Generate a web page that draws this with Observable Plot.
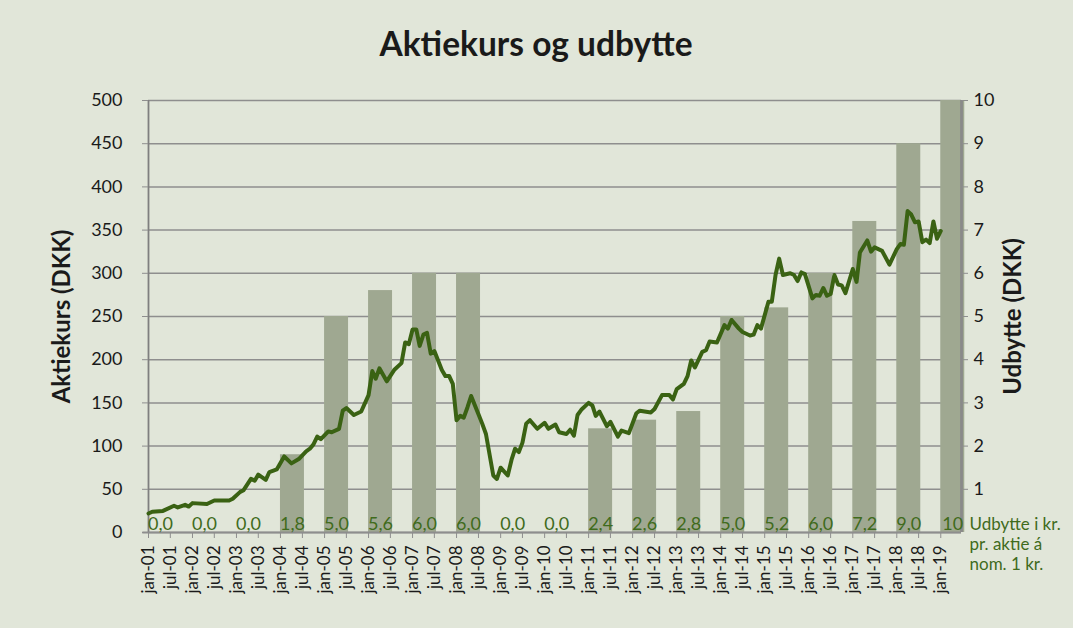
<!DOCTYPE html>
<html>
<head>
<meta charset="utf-8">
<script src="https://cdn.jsdelivr.net/npm/d3@7"></script>
<script src="https://cdn.jsdelivr.net/npm/@observablehq/plot@0.6"></script>
<style>
  html, body { margin: 0; padding: 0; background: #e1e6d9; }
  #chart { width: 1073px; height: 628px; }
</style>
</head>
<body>
<div id="chart"></div>
<script>
// ---- Data ----
const title = "Aktiekurs og udbytte";
const leftLabel = "Aktiekurs (DKK)";
const rightLabel = "Udbytte (DKK)";
const legendText = "Udbytte i kr.\npr. aktie á\nnom. 1 kr.";

// Monthly share price (DKK) at the line's vertices
const priceMonths = [
  "2001-01","2001-02","2001-05","2001-08","2001-09","2001-11","2001-12","2002-01","2002-05","2002-07",
  "2002-11","2002-12","2003-02","2003-03","2003-05","2003-06","2003-07","2003-09","2003-10","2003-12",
  "2004-02","2004-04","2004-06","2004-08","2004-09","2004-10","2004-11","2004-12","2005-02","2005-03",
  "2005-05","2005-06","2005-07","2005-09","2005-11","2006-01","2006-02","2006-03","2006-04","2006-06",
  "2006-08","2006-10","2006-11","2006-12","2007-01","2007-02","2007-03","2007-04","2007-05","2007-06",
  "2007-07","2007-09","2007-10","2007-11","2007-12","2008-01","2008-02","2008-03","2008-04","2008-05",
  "2008-07","2008-08","2008-09","2008-11","2008-12","2009-01","2009-03","2009-04","2009-05","2009-06",
  "2009-07","2009-08","2009-09","2009-11","2010-01","2010-02","2010-04","2010-05","2010-07","2010-08",
  "2010-09","2010-10","2010-11","2011-01","2011-02","2011-03","2011-04","2011-06","2011-07","2011-09",
  "2011-10","2011-12","2012-02","2012-03","2012-06","2012-07","2012-09","2012-11","2012-12","2013-01",
  "2013-03","2013-04","2013-05","2013-06","2013-08","2013-09","2013-10","2013-12","2014-02","2014-03",
  "2014-04","2014-06","2014-07","2014-09","2014-10","2014-11","2014-12","2015-02","2015-03","2015-04",
  "2015-05","2015-06","2015-08","2015-09","2015-10","2015-11","2015-12","2016-02","2016-03","2016-04",
  "2016-05","2016-06","2016-07","2016-08","2016-09","2016-10","2016-11","2017-01","2017-02","2017-03",
  "2017-05","2017-06","2017-07","2017-09","2017-11","2018-01","2018-02","2018-03","2018-04","2018-05",
  "2018-06","2018-07","2018-08","2018-09","2018-10","2018-11","2018-12","2019-01"
];
const priceValues = [
  22,24,25,31,29,32,30,34,33,37,
  37,39,47,49,62,60,67,61,70,73,
  88,80,85,94,97,102,111,108,117,116,
  120,141,144,136,140,159,187,178,190,175,
  188,196,220,218,235,235,216,229,231,207,
  210,188,181,181,172,130,135,133,145,158,
  137,126,114,66,62,75,66,84,97,93,
  104,126,130,120,127,120,125,116,114,119,
  112,136,142,150,147,135,140,123,128,111,
  118,115,138,141,139,143,159,159,154,166,
  172,181,199,191,209,211,221,220,240,236,
  246,236,232,228,229,240,236,267,267,298,
  317,298,300,298,291,301,299,271,275,274,
  283,274,276,298,287,286,277,305,290,324,
  338,325,330,326,310,328,334,333,372,368,
  359,360,336,339,335,360,340,349
];

// Annual dividend per share (DKK)
const divYears  = [2001,2002,2003,2004,2005,2006,2007,2008,2009,2010,2011,2012,2013,2014,2015,2016,2017,2018,2019];
const divValues = [0,0,0,1.8,5.0,5.6,6.0,6.0,0,0,2.4,2.6,2.8,5.0,5.2,6.0,7.2,9.0,10];
const divLabels = ["0,0","0,0","0,0","1,8","5,0","5,6","6,0","6,0","0,0","0,0","2,4","2,6","2,8","5,0","5,2","6,0","7,2","9,0","10"];

// Axis ticks
const leftTicks = [0,50,100,150,200,250,300,350,400,450,500];
const rightTicks = [1,2,3,4,5,6,7,8,9,10];
const xTickLabels = [
  "jan-01","jul-01","jan-02","jul-02","jan-03","jul-03","jan-04","jul-04","jan-05","jul-05",
  "jan-06","jul-06","jan-07","jul-07","jan-08","jul-08","jan-09","jul-09","jan-10","jul-10",
  "jan-11","jul-11","jan-12","jul-12","jan-13","jul-13","jan-14","jul-14","jan-15","jul-15",
  "jan-16","jul-16","jan-17","jul-17","jan-18","jul-18","jan-19"
];

// ---- Build tables ----
const parseMonth = d3.utcParse("%Y-%m");
const price = priceMonths.map((m, i) => ({date: parseMonth(m), value: priceValues[i]}));
const monthIndex = {jan: 0, jul: 6};
const xTicks = xTickLabels.map(s => {
  const [m, y] = s.split("-");
  return new Date(Date.UTC(2000 + +y, monthIndex[m], 1));
});
const labelByTime = new Map(xTicks.map((d, i) => [+d, xTickLabels[i]]));
const divScale = 50; // right axis 0–10 maps onto left axis 0–500
const bars = divYears.map((y, i) => {
  const x1 = new Date(Date.UTC(y, 0, 1));
  const x2 = d3.utcDay.offset(x1, 199);
  return {x1, x2, mid: new Date((+x1 + +x2) / 2), value: divValues[i] * divScale, label: divLabels[i]};
});
const xStart = new Date(Date.UTC(2001, 0, 1));
const xEnd = new Date(Date.UTC(2019, 5, 22));

const font = "Lato, 'Open Sans', sans-serif";
const green = "#3f6b1c";
const grid = "#8e8e8e";

const chart = Plot.plot({
  width: 1073,
  height: 628,
  marginLeft: 148,
  marginRight: 112,
  marginTop: 100,
  marginBottom: 96,
  style: {background: "#e1e6d9", fontFamily: font, color: "#1a1a1a", overflow: "visible"},
  x: {type: "utc", domain: [xStart, xEnd]},
  y: {domain: [0, 500]},
  marks: [
    Plot.ruleY(leftTicks, {stroke: grid, strokeWidth: 1.5}),
    Plot.rect(bars, {x1: "x1", x2: "x2", y1: 0, y2: "value", fill: "#9fa891"}),
    Plot.ruleX([xStart], {stroke: "#7f7f7f", strokeWidth: 1.8}),
    Plot.ruleX([xEnd], {stroke: "#8a8a8a", strokeWidth: 2.8}),
    Plot.ruleY([0], {x1: new Date(Date.UTC(2000, 10, 15)), x2: xEnd, stroke: grid, strokeWidth: 2}),
    Plot.line(price, {x: "date", y: "value", stroke: "#3a6213", strokeWidth: 4, strokeLinejoin: "round", strokeLinecap: "round"}),
    Plot.text(bars, {x: "mid", y: 0, text: "label", fill: green, fontSize: 18, lineAnchor: "bottom", dy: -3}),
    Plot.axisY(leftTicks, {anchor: "left", tickSize: 6, tickPadding: 20, stroke: grid, fill: "#1a1a1a", fontSize: 18, label: null}),
    Plot.axisY(rightTicks.map(d => d * divScale), {anchor: "right", tickSize: 6, tickPadding: 6, stroke: grid, fill: "#1a1a1a", fontSize: 18, label: null, tickFormat: d => String(d / divScale)}),
    Plot.axisX(xTicks, {anchor: "bottom", tickSize: 6, tickPadding: 7, tickRotate: -90, stroke: grid, fill: "#1a1a1a", fontSize: 17, label: null, tickFormat: d => labelByTime.get(+d)}),
    Plot.text([title], {text: d => d, frameAnchor: "top", dx: -19, dy: -55, lineAnchor: "middle", fontSize: 33.5, fontWeight: "bold", fill: "#1a1a1a"}),
    Plot.text([leftLabel], {text: d => d, frameAnchor: "left", dx: -86, rotate: -90, textAnchor: "middle", lineAnchor: "middle", fontSize: 24, fontWeight: "bold", fill: "#1a1a1a"}),
    Plot.text([rightLabel], {text: d => d, frameAnchor: "right", dx: 52, rotate: -90, textAnchor: "middle", lineAnchor: "middle", fontSize: 24, fontWeight: "bold", fill: "#1a1a1a"}),
    Plot.text([legendText], {text: d => d, frameAnchor: "bottom-right", dx: 8, dy: -17, textAnchor: "start", lineAnchor: "top", lineHeight: 1.18, fontSize: 17, fill: green})
  ]
});
document.getElementById("chart").appendChild(chart);
</script>
</body>
</html>
